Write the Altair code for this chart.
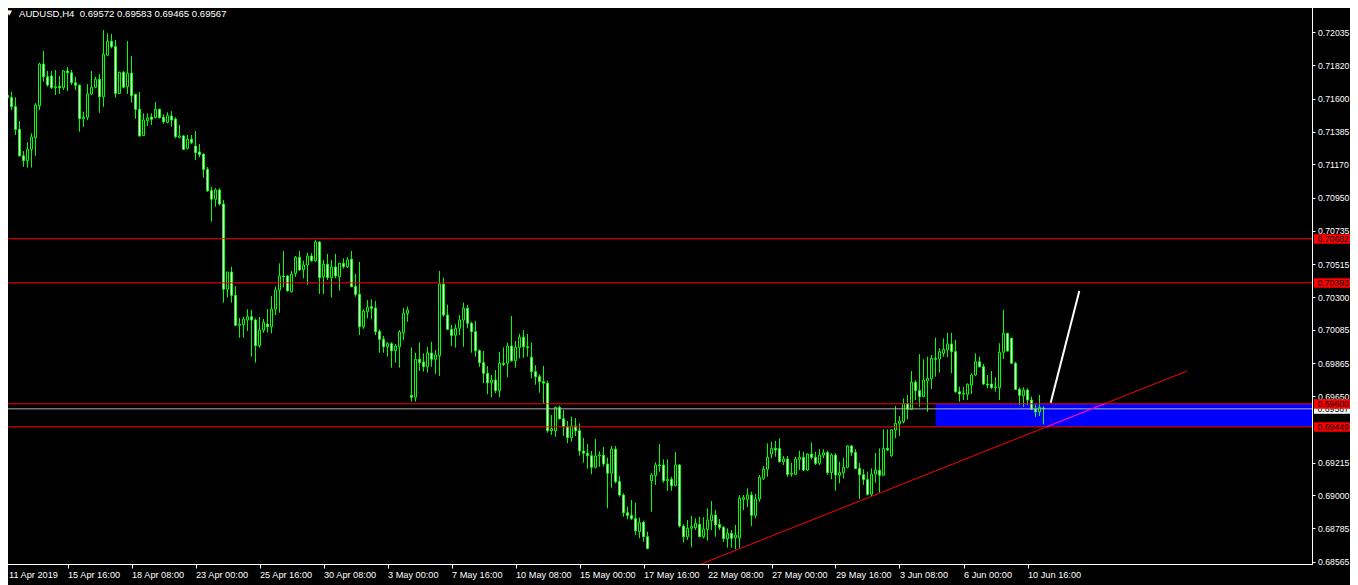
import altair as alt
import pandas as pd

# ---------------- data (prices in points, 1 point = 0.00001) ----------------
OPEN = [71668,71622,71607,71548,71399,71226,71194,71268,71344,71554,
71827,71744,71749,71672,71681,71672,71782,71770,71705,71688,
71469,71478,71631,71675,71727,71613,71885,71976,71941,71635,
71773,71679,71767,71629,71531,71358,71456,71480,71476,71531,
71478,71445,71487,71467,71347,71356,71275,71334,71290,71251,
71236,71137,70997,70941,71002,70910,70351,70464,70311,70115,
70119,70149,70171,70149,69981,70082,70123,70105,70220,70346,
70438,70438,70335,70455,70560,70479,70510,70569,70538,70661,
70433,70515,70427,70497,70433,70521,70499,70547,70368,70318,
70105,70204,70237,70228,70075,70023,69974,69994,69948,69974,
70066,70193,69656,69643,69892,69874,69843,69933,69892,69915,
70385,70182,70088,70049,70095,70149,70226,70128,70073,69948,
69870,69800,69738,69756,69686,69866,69866,69979,69883,69970,
70036,69974,69905,69811,69778,69745,69735,69424,69424,69577,
69502,69450,69378,69455,69424,69291,69276,69260,69184,69258,
69263,69206,69145,69302,69090,69002,68886,68869,68847,68762,
68823,68729,69096,69129,69199,69199,69096,69105,69063,69199,
68799,68729,68784,68788,68810,68729,68777,68834,68871,68810,
68790,68716,68751,68722,68722,68974,68974,69002,68869,68976,
69112,69171,69271,69308,69308,69221,69238,69138,69138,69236,
69249,69166,69271,69249,69210,69264,69280,69149,69264,69133,
69149,69184,69324,69281,69176,69135,69103,69007,69139,69165,
69132,69308,69260,69428,69470,69483,69602,69564,69741,69687,
69647,69751,69763,69898,69894,69931,69953,69992,69942,69679,
69664,69662,69723,69789,69876,69843,69730,69730,69706,69706,
69938,70062,70029,69866,69695,69653,69690,69625,69564,69548,
69572]

HIGH = [71696,71646,71646,71609,71454,71257,71316,71373,71572,71836,
71913,71782,71782,71788,71749,71788,71808,71788,71744,71694,
71515,71696,71782,71744,71762,72050,72029,72024,71985,71777,
71782,71978,71880,71631,71644,71504,71504,71504,71578,71535,
71498,71511,71519,71478,71428,71362,71362,71362,71388,71303,
71242,71152,71023,71013,71013,70936,70464,70499,70372,70163,
70171,70220,70215,70160,70169,70156,70220,70307,70368,70521,
70602,70444,70471,70569,70602,70538,70590,70587,70674,70667,
70543,70582,70543,70582,70525,70554,70560,70602,70451,70530,
70220,70281,70285,70274,70088,70045,70003,70003,69992,70084,
70230,70237,69970,69935,70003,69931,69974,70007,69953,70471,
70427,70250,70117,70121,70182,70263,70248,70138,70143,69957,
69946,69848,69789,69822,69940,69970,70001,70176,70012,70058,
70084,70058,70001,69853,69794,69848,69751,69527,69581,69588,
69559,69487,69516,69507,69472,69376,69337,69291,69369,69289,
69317,69247,69324,69324,69127,69013,68926,68970,68952,68854,
68834,68762,69145,69217,69337,69236,69236,69122,69283,69206,
68810,68838,68865,68850,68860,68856,68915,68963,68904,68845,
68799,68784,68773,68806,69002,69002,69046,69024,69009,69133,
69192,69341,69352,69358,69374,69258,69258,69214,69253,69293,
69286,69276,69348,69286,69302,69302,69293,69276,69276,69221,
69247,69330,69330,69302,69212,69171,69155,69177,69278,69308,
69433,69433,69433,69586,69520,69636,69658,69815,69756,69926,
69892,69909,69920,70033,69964,70029,70066,70066,70018,69712,
69712,69735,69800,69931,69909,69861,69789,69815,69774,69997,
70215,70066,70033,69876,69708,69708,69702,69647,69597,69658,
69583]

LOW = [71611,71508,71526,71362,71220,71154,71148,71148,71226,71526,
71711,71679,71664,71624,71631,71657,71650,71690,71657,71384,
71416,71460,71624,71668,71508,71548,71880,71930,71607,71631,
71668,71631,71574,71469,71351,71356,71421,71428,71472,71469,
71436,71439,71416,71340,71340,71264,71268,71303,71198,71216,
71082,70988,70794,70892,70901,70263,70296,70263,70110,70033,
70033,70077,69909,69870,69968,70066,70066,70062,70182,70197,
70364,70335,70328,70433,70473,70423,70379,70532,70532,70320,
70320,70412,70296,70423,70341,70486,70490,70364,70302,70051,
70092,70160,70154,70051,69935,69935,69909,69837,69870,69837,
70018,70138,69614,69614,69817,69811,69804,69843,69795,69782,
70171,70084,69979,69968,70051,69974,70095,69935,69909,69843,
69735,69662,69643,69669,69643,69848,69774,69876,69837,69898,
69902,69909,69767,69725,69673,69603,69411,69396,69384,69498,
69389,69341,69352,69389,69260,69214,69175,69138,69177,69188,
69188,68915,69050,69079,68991,68860,68843,68838,68740,68718,
68696,68646,68893,69068,69155,69083,69029,69030,69061,68790,
68690,68707,68659,68773,68725,68718,68703,68773,68729,68773,
68696,68657,68657,68646,68653,68904,68922,68799,68850,68958,
69101,69122,69243,69253,69214,69199,69122,69122,69133,69166,
69160,69160,69236,69199,69199,69243,69133,69105,69030,69079,
69112,69177,69258,69171,68976,69068,68999,68996,69083,69017,
69127,69293,69253,69374,69389,69472,69498,69559,69625,69581,
69643,69548,69697,69778,69804,69909,69905,69800,69673,69614,
69625,69625,69664,69782,69839,69723,69702,69697,69679,69625,
69894,69942,69861,69690,69592,69581,69592,69559,69512,69520,
69465]

CLOSE = [71624,71607,71548,71399,71226,71194,71268,71349,71559,71827,
71744,71690,71672,71679,71672,71782,71770,71705,71688,71469,
71478,71631,71675,71727,71613,71891,71976,71941,71635,71773,
71675,71767,71620,71531,71356,71460,71474,71465,71531,71476,
71449,71489,71460,71351,71356,71268,71334,71312,71246,71233,
71137,70997,70941,71002,70910,70351,70464,70311,70115,70123,
70154,70171,70149,69981,70082,70134,70105,70220,70346,70438,
70433,70341,70451,70560,70477,70510,70569,70538,70661,70427,
70515,70427,70497,70438,70521,70499,70543,70368,70318,70105,
70208,70233,70226,70073,70023,69974,69994,69948,69979,70071,
70193,70215,69643,69892,69870,69843,69933,69892,69920,70385,
70182,70088,70048,70095,70149,70226,70128,70073,69948,69870,
69800,69738,69756,69686,69866,69859,69979,69883,69970,70036,
69974,69968,69811,69778,69745,69735,69424,69437,69577,69502,
69450,69378,69455,69424,69291,69276,69260,69184,69258,69263,
69206,69145,69302,69090,69002,68886,68869,68847,68768,68821,
68729,68652,69133,69199,69194,69096,69105,69063,69199,68799,
68729,68784,68795,68817,68729,68779,68838,68871,68806,68790,
68716,68751,68718,68740,68981,68985,69002,68869,68976,69118,
69171,69249,69308,69297,69221,69238,69138,69145,69238,69249,
69166,69271,69249,69210,69264,69280,69149,69264,69133,69149,
69184,69324,69281,69176,69135,69103,69007,69139,69165,69132,
69308,69297,69430,69472,69487,69602,69564,69741,69687,69647,
69756,69767,69898,69892,69942,69957,69992,69942,69679,69664,
69669,69728,69789,69876,69843,69730,69723,69706,69712,69938,
70062,69946,69866,69695,69656,69690,69625,69564,69548,69577,
69567]

assert len(OPEN) == len(HIGH) == len(LOW) == len(CLOSE) == 261

POINT = 1e-5
SYMBOL = "AUDUSD,H4"

X_LABELS = ["11 Apr 2019", "15 Apr 16:00", "18 Apr 08:00", "23 Apr 00:00", "25 Apr 16:00",
            "30 Apr 08:00", "3 May 00:00", "7 May 16:00", "10 May 08:00", "15 May 00:00",
            "17 May 16:00", "22 May 08:00", "27 May 00:00", "29 May 16:00", "3 Jun 08:00",
            "6 Jun 00:00", "10 Jun 16:00"]
BARS_PER_LABEL = 16

# price scale labels visible on the right (0.69430 sits fully under the 0.69449 tag)
Y_TICKS = [0.72035, 0.71820, 0.71600, 0.71385, 0.71170, 0.70950, 0.70735, 0.70515,
           0.70300, 0.70085, 0.69865, 0.69650, 0.69215, 0.69000, 0.68785, 0.68565]

H_LEVELS = [0.70682, 0.70393, 0.69600, 0.69449]       # red horizontal lines
BID = 0.69567                                        # bid line
ZONE_I = [233, 330]                                  # blue zone, bar index range
ZONE_P = [0.69449, 0.69600]                          # blue zone, price range
TREND_I = [174.0, 295.9]
TREND_P = [0.68546, 0.69815]
ARROW_I = [261.8, 268.95]
ARROW_P = [0.69607, 0.70339]

# ---------------- styles ----------------
LIME = "#00FF00"
FONT = "Liberation Sans"
FS = 9.2          # time labels
FSY = 8.7         # price labels
W, H = 1310, 562

xs = alt.Scale(domain=[-0.375, 327.125], nice=False, zero=False)
ys = alt.Scale(domain=[0.68550, 0.72234], nice=False, zero=False)

label_js = "[" + ",".join("'" + s + "'" for s in X_LABELS) + "]"
xaxis = alt.Axis(values=[k * BARS_PER_LABEL for k in range(len(X_LABELS))],
                 labelExpr=f"{label_js}[round(datum.value / {BARS_PER_LABEL})]",
                 title=None, grid=False, labelAlign="left", labelBaseline="top",
                 labelPadding=2, tickSize=4, labelFlush=False, labelOverlap=False,
                 labelColor="white", tickColor="white", domainColor="white",
                 labelFont=FONT, labelFontSize=FS,
                 labelOffset={"condition": {"test": "datum.value == 0", "value": 5}, "value": 0})
yaxis = alt.Axis(orient="right", values=Y_TICKS, format=".5f", title=None, grid=False,
                 tickSize=3, labelPadding=2.5, labelFlush=False, labelOverlap=False,
                 labelColor="white", tickColor="white", domainColor="white",
                 labelFont=FONT, labelFontSize=FSY)


def X(f):
    return alt.X(f, type="quantitative", scale=xs, axis=xaxis)


def Y(f):
    return alt.Y(f, type="quantitative", scale=ys, axis=yaxis)


df = pd.DataFrame({
    "i": list(range(len(OPEN))),
    "open": [v * POINT for v in OPEN],
    "high": [v * POINT for v in HIGH],
    "low": [v * POINT for v in LOW],
    "close": [v * POINT for v in CLOSE],
})
df["top"] = df[["open", "close"]].max(axis=1)
df["bot"] = df[["open", "close"]].min(axis=1)
df["xl"] = df["i"] - 0.25
df["xr"] = df["i"] + 0.25

zone_df = pd.DataFrame({"i0": [ZONE_I[0]], "i1": [ZONE_I[1]], "pb": [ZONE_P[0]], "pt": [ZONE_P[1]]})
zone = alt.Chart(zone_df).mark_rect(color="#0000FF", clip=True).encode(
    x=X("i0"), x2="i1", y=Y("pb"), y2="pt")

wicks = alt.Chart(df).mark_rule(color=LIME, strokeWidth=1, clip=True).encode(
    x=X("i"), y=Y("low"), y2="high")

bodies = alt.Chart(df).mark_rect(stroke=LIME, strokeWidth=1, clip=True).encode(
    x=X("xl"), x2="xr", y=Y("bot"), y2="top",
    fill=alt.condition("datum.close > datum.open", alt.value("#000000"), alt.value("#FFFFFF")))

bid_line = alt.Chart(pd.DataFrame({"p": [BID]})).mark_rule(color="#B4B4B4", strokeWidth=1).encode(y=Y("p"))
red_lines = alt.Chart(pd.DataFrame({"p": H_LEVELS})).mark_rule(color="#FF0000", strokeWidth=1).encode(y=Y("p"))

trend_df = pd.DataFrame({"i": TREND_I, "p": TREND_P})
trend = alt.Chart(trend_df).mark_line(color="#FF0000", strokeWidth=1, clip=True).encode(x=X("i"), y=Y("p"))

# part of the trend line lying over the blue zone
slope = (TREND_I[1] - TREND_I[0]) / (TREND_P[1] - TREND_P[0])
mag_df = pd.DataFrame({"i": [TREND_I[0] + (p - TREND_P[0]) * slope for p in ZONE_P], "p": ZONE_P})
magenta = alt.Chart(mag_df).mark_line(color="#FF00FF", strokeWidth=1, clip=True).encode(x=X("i"), y=Y("p"))

arrow = alt.Chart(pd.DataFrame({"i": ARROW_I, "p": ARROW_P})).mark_line(
    color="#FFFFFF", strokeWidth=2, clip=True).encode(x=X("i"), y=Y("p"))

bid_df = pd.DataFrame({"p": [BID], "label": [f"{BID:.5f}"]})
bid_box = alt.Chart(bid_df).mark_rect(color="#FFFFFF", yOffset=-4.5, y2Offset=5).encode(
    x=alt.value(W + 2), x2=alt.value(W + 43), y=Y("p"), y2=alt.Y2("p"))
bid_txt = alt.Chart(bid_df).mark_text(align="left", baseline="middle", color="#000000",
                                      font=FONT, fontSize=FSY).encode(
    x=alt.value(W + 5.5), y=Y("p"), text="label:N")

lvl_df = pd.DataFrame({"p": H_LEVELS, "label": [f"{p:.5f}" for p in H_LEVELS]})
lvl_box = alt.Chart(lvl_df).mark_rect(color="#FF0000", yOffset=-4.5, y2Offset=5).encode(
    x=alt.value(W + 2), x2=alt.value(W + 43), y=Y("p"), y2=alt.Y2("p"))
lvl_txt = alt.Chart(lvl_df).mark_text(align="left", baseline="middle", color="#000000",
                                      font=FONT, fontSize=FSY).encode(
    x=alt.value(W + 5.5), y=Y("p"), text="label:N")

title_str = f"{SYMBOL}\u00a0 {OPEN[-1]*POINT:.5f} {HIGH[-1]*POINT:.5f} {LOW[-1]*POINT:.5f} {CLOSE[-1]*POINT:.5f}"
title = alt.Chart(pd.DataFrame({"t": [title_str]})).mark_text(
    align="left", baseline="alphabetic", color="#FFFFFF", font=FONT, fontSize=9.6).encode(
    x=alt.value(17), y=alt.value(15), text="t:N")
tri = alt.Chart(pd.DataFrame({"t": ["\u25bc"]})).mark_text(
    align="center", baseline="middle", color="#FFFFFF", font="DejaVu Sans", fontSize=7).encode(
    x=alt.value(7.3), y=alt.value(11), text="t:N")

chart = alt.layer(
    zone, wicks, bodies, bid_line, red_lines, trend, magenta, arrow,
    bid_box, bid_txt, lvl_box, lvl_txt, title, tri
).properties(
    width=W, height=H,
    padding={"left": -6, "top": -6, "right": 38, "bottom": 21},
    autosize=alt.AutoSizeParams(type="none"),
    background="#000000",
).configure_view(stroke="#FFFFFF", strokeWidth=1)

chart.save("out.html", embed_options={"renderer": "svg", "actions": False})
